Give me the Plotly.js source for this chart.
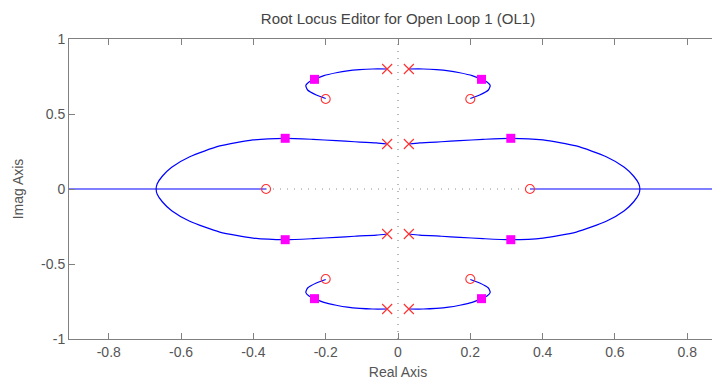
<!DOCTYPE html>
<html>
<head>
<meta charset="utf-8">
<script src="https://cdn.plot.ly/plotly-3.0.1.min.js"></script>
<style>
html,body{margin:0;padding:0;overflow:hidden;background:#fff;}
#chart{width:740px;height:381px;}
</style>
</head>
<body>
<div id="chart"></div>
<script>
// Open-loop poles
const poleX = [0.03, 0.03, -0.03, -0.03, 0.03, 0.03, -0.03, -0.03];
const poleY = [0.8, 0.3, 0.8, 0.3, -0.8, -0.3, -0.8, -0.3];
// Open-loop zeros
const zeroX = [0.2, -0.2, 0.2, -0.2, 0.365, -0.365];
const zeroY = [0.6, 0.6, -0.6, -0.6, 0, 0];
// Closed-loop poles (current gain)
const clX = [0.231, -0.231, 0.231, -0.231, 0.312, -0.312, 0.312, -0.312];
const clY = [0.731, 0.731, -0.731, -0.731, 0.338, 0.338, -0.338, -0.338];

// Outer branch (pole 0.03+0.8j -> zero 0.2+0.6j), first quadrant
const outerX = [0.03, 0.07, 0.106, 0.14, 0.171, 0.205, 0.231, 0.247, 0.255, 0.25, 0.226, 0.2];
const outerY = [0.8, 0.8, 0.796, 0.788, 0.775, 0.756, 0.731, 0.712, 0.69, 0.66, 0.627, 0.603];
// Inner branch (pole 0.03+0.3j -> real-axis break-in at 0.669), first quadrant
const innerX = [0.03, 0.06, 0.12, 0.171, 0.235, 0.312, 0.401, 0.493, 0.576, 0.626, 0.652, 0.666, 0.669];
const innerY = [0.3, 0.307, 0.315, 0.322, 0.331, 0.338, 0.327, 0.287, 0.215, 0.145, 0.085, 0.035, 0];
// Real-axis segments of the locus
const realRightX = [0.365, 1.2];
const realLeftX = [-0.365, -1.2];

const xTicks = [-0.8, -0.6, -0.4, -0.2, 0, 0.2, 0.4, 0.6, 0.8];
const xTickText = ['-0.8', '-0.6', '-0.4', '-0.2', '0', '0.2', '0.4', '0.6', '0.8'];
const yTicks = [-1, -0.5, 0, 0.5, 1];
const yTickText = ['-1', '-0.5', '0', '0.5', '1'];

const blue = '#0000ff';
const FONT = 'Liberation Sans, Arial, sans-serif';
const traces = [];
const addLine = (x, y) => traces.push({x, y, mode: 'lines', type: 'scatter',
  line: {color: blue, width: 1.2, shape: 'spline', smoothing: 0.6}, hoverinfo: 'skip'});

// dotted reference lines
traces.push({x: [0, 0], y: [-1, 1], mode: 'lines', line: {color: '#8c8c8c', width: 1.2, dash: '1px,6px'}, hoverinfo: 'skip'});
traces.push({x: [-0.365, 0.365], y: [0, 0], mode: 'lines', line: {color: '#8c8c8c', width: 1.2, dash: '1px,6px'}, hoverinfo: 'skip'});

for (const sx of [1, -1]) {
  for (const sy of [1, -1]) {
    addLine(outerX.map(v => v * sx), outerY.map(v => v * sy));
  }
  // inner loop: upper branch joined to its conjugate through the real-axis crossing
  const loopX = innerX.concat(innerX.slice(0, -1).reverse()).map(v => v * sx);
  const loopY = innerY.concat(innerY.slice(0, -1).reverse().map(v => -v));
  addLine(loopX, loopY);
}
addLine(realRightX, [0, 0]);
addLine(realLeftX, [0, 0]);

traces.push({x: clX, y: clY, mode: 'markers', type: 'scatter',
  marker: {symbol: 'square', size: 9, color: '#ff00ff'}});
traces.push({x: zeroX, y: zeroY, mode: 'markers', type: 'scatter',
  marker: {symbol: 'circle-open', size: 9, color: '#ff3030', line: {width: 1.1}}});
traces.push({x: poleX, y: poleY, mode: 'markers', type: 'scatter',
  marker: {symbol: 'x-thin-open', size: 10, color: '#ff3030', line: {width: 1.1, color: '#ff3030'}}});

const axCommon = {
  showgrid: false, zeroline: false, showline: true, linecolor: '#808080', linewidth: 1,
  ticks: 'inside', ticklen: 6, tickcolor: '#808080', mirror: 'ticks',
  tickfont: {family: FONT, size: 14, color: '#555'}
};
const layout = {
  width: 740, height: 381,
  margin: {l: 69, r: 13, t: 39, b: 42},
  paper_bgcolor: '#fff', plot_bgcolor: '#fff',
  showlegend: false,
  title: {text: 'Root Locus Editor for Open Loop 1 (OL1)', x: 398 / 740, xanchor: 'center', y: 0.952, yanchor: 'middle',
    font: {family: FONT, size: 15, color: '#444'}},
  xaxis: Object.assign({}, axCommon, {range: [-0.91, 0.91], tickvals: xTicks, ticktext: xTickText,
    title: {text: 'Real Axis', standoff: 8, font: {family: FONT, size: 14, color: '#555'}}}),
  yaxis: Object.assign({}, axCommon, {range: [-1, 1], tickvals: yTicks, ticktext: yTickText,
    title: {text: 'Imag Axis', standoff: 14, font: {family: FONT, size: 14, color: '#555'}}})
};
Plotly.newPlot('chart', traces, layout, {displayModeBar: false, staticPlot: true});
</script>
</body>
</html>
